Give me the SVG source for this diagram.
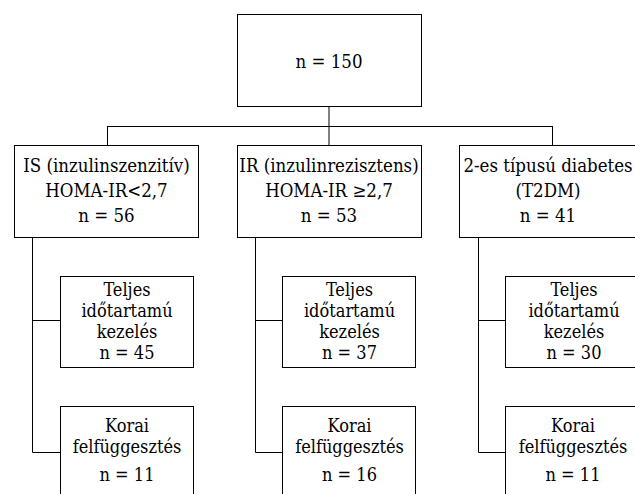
<svg xmlns="http://www.w3.org/2000/svg" width="635" height="494" viewBox="0 0 635 494">
<style>
.box{fill:#fff;stroke:#000;stroke-width:1}
.c{fill:none;stroke:#000;stroke-width:1}
text{fill:#000;text-anchor:middle;font-family:'DejaVu Serif Condensed','DejaVu Serif',serif;font-stretch:condensed}
.l{font-size:18.5px}
.s{font-size:18px}
</style>
<rect width="635" height="494" fill="#fff"/>
<g id="connectors">
<path class="c" d="M329 107 V126" stroke-width="2"/>
<path class="c" d="M107.5 126.5 H552.5 M107.5 126 V145 M329 126 V145 M552.5 126 V145"/>
<path class="c" d="M32.5 237 V452.5 H60 M32 320.5 H60"/>
<path class="c" d="M255.5 237 V452.5 H283 M255 320.5 H283"/>
<path class="c" d="M478.5 237 V452.5 H506 M478 320.5 H506"/>
</g>
<g id="root">
<rect class="box" x="237.5" y="14.5" width="184" height="92"/>
<text class="l" x="329" y="68">n = 150</text>
</g>
<g id="is">
<rect class="box" x="14.5" y="145.5" width="184" height="92"/>
<text class="l" x="106.5" y="172">IS (inzulinszenzitív)</text>
<text class="l" x="106.5" y="197">HOMA-IR&lt;2,7</text>
<text class="l" x="106.5" y="222">n = 56</text>
</g>
<g id="ir">
<rect class="box" x="237.5" y="145.5" width="184" height="92"/>
<text class="l" x="329" y="172">IR (inzulinrezisztens)</text>
<text class="l" x="329" y="197">HOMA-IR ≥2,7</text>
<text class="l" x="329" y="222">n = 53</text>
</g>
<g id="t2dm">
<rect class="box" x="459.5" y="145.5" width="184" height="92"/>
<text class="l" x="548" y="172">2-es típusú diabetes</text>
<text class="l" x="548" y="197">(T2DM)</text>
<text class="l" x="548" y="222">n = 41</text>
</g>
<g id="is-full">
<rect class="box" x="60.5" y="276.5" width="133" height="91"/>
<text class="s" x="127" y="296">Teljes</text>
<text class="s" x="127" y="317">időtartamú</text>
<text class="s" x="127" y="338">kezelés</text>
<text class="s" x="127" y="359">n = 45</text>
</g>
<g id="is-early">
<rect class="box" x="60.5" y="406.5" width="133" height="100"/>
<text class="s" x="127" y="431.5">Korai</text>
<text class="s" x="127" y="452.5">felfüggesztés</text>
<text class="s" x="127" y="480.5">n = 11</text>
</g>
<g id="ir-full">
<rect class="box" x="282.5" y="276.5" width="133" height="91"/>
<text class="s" x="349.5" y="296">Teljes</text>
<text class="s" x="349.5" y="317">időtartamú</text>
<text class="s" x="349.5" y="338">kezelés</text>
<text class="s" x="349.5" y="359">n = 37</text>
</g>
<g id="ir-early">
<rect class="box" x="282.5" y="406.5" width="133" height="100"/>
<text class="s" x="349.5" y="431.5">Korai</text>
<text class="s" x="349.5" y="452.5">felfüggesztés</text>
<text class="s" x="349.5" y="480.5">n = 16</text>
</g>
<g id="t2dm-full">
<rect class="box" x="505.5" y="276.5" width="140" height="91"/>
<text class="s" x="574" y="296">Teljes</text>
<text class="s" x="574" y="317">időtartamú</text>
<text class="s" x="574" y="338">kezelés</text>
<text class="s" x="574" y="359">n = 30</text>
</g>
<g id="t2dm-early">
<rect class="box" x="505.5" y="406.5" width="140" height="100"/>
<text class="s" x="573" y="431.5">Korai</text>
<text class="s" x="573" y="452.5">felfüggesztés</text>
<text class="s" x="573" y="480.5">n = 11</text>
</g>
</svg>
